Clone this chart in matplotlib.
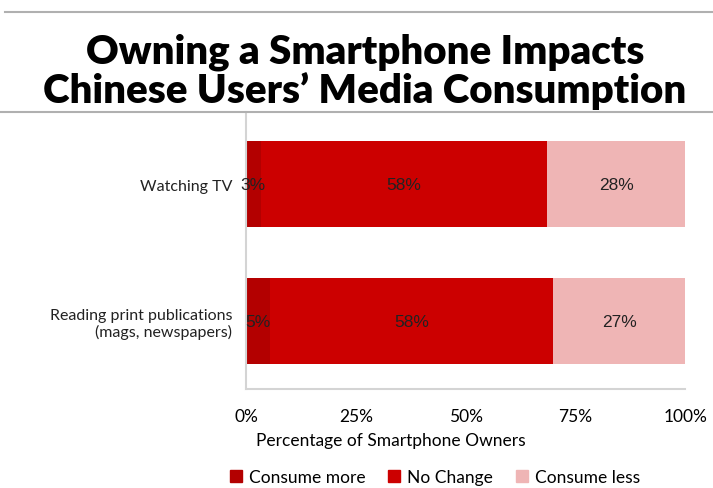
import numpy as np
import matplotlib
matplotlib.use("Agg")
from matplotlib import pyplot as plt
from matplotlib.lines import Line2D
from matplotlib.patches import Patch

activities = ["Reading print publications\n(mags, newspapers)", "Watching TV"]
series_names = ["Consume more", "No Change", "Consume less"]
consume_more = [5, 3]
no_change = [58, 58]
consume_less = [27, 28]

colors = ["#B30000", "#CC0000", "#EFB5B5"]

fig = plt.figure(figsize=(7.13, 4.89), dpi=100)

# header rules and title
fig.add_artist(Line2D([0.007, 1.0], [0.973, 0.973], color="#B0B0B0", lw=1.5))
fig.add_artist(Line2D([0.0, 1.0], [0.769, 0.769], color="#B0B0B0", lw=1.5))
fig.text(0.512, 0.853, "Owning a Smartphone Impacts\nChinese Users\u2019 Media Consumption",
         ha="center", va="center", fontsize=29, fontweight="heavy", family="Lato",
         linespacing=1.04)

ax = fig.add_axes([0.345, 0.2025, 0.616, 0.5665])

values = np.array([consume_more, no_change, consume_less], dtype=float)
totals = values.sum(axis=0)
shares = values / totals * 100
y = np.arange(len(activities))
left = np.zeros(len(activities))
for name, raw, share, color in zip(series_names, values, shares, colors):
    ax.barh(y, share, left=left, height=0.63, color=color, label=name)
    for yi, l, s, r in zip(y, left, share, raw):
        ax.text(l + s / 2, yi, f"{r:.0f}%", ha="center", va="center",
                fontsize=12.5, family="Liberation Sans", color="#222222")
    left += share

ax.set_xlim(0, 100)
ax.set_ylim(-0.496, 1.526)
ax.set_xticks([0, 25, 50, 75, 100])
ax.set_xticklabels(["0%", "25%", "50%", "75%", "100%"], family="Lato", fontsize=12.5)
ax.set_yticks(y)
ax.set_yticklabels(activities, family="Lato", fontsize=11.5, color="#222222")
ax.tick_params(length=0)
ax.tick_params(axis="x", pad=14)
ax.tick_params(axis="y", pad=10)
for side in ["top", "right"]:
    ax.spines[side].set_visible(False)
for side in ["left", "bottom"]:
    ax.spines[side].set_color("#D4D4D4")
    ax.spines[side].set_linewidth(1.5)
ax.set_xlabel("Percentage of Smartphone Owners", family="Lato", fontsize=12.5,
              labelpad=6)
ax.xaxis.set_label_coords(0.33, -0.155)

handles = [Patch(color=c) for c in colors]
fig.legend(handles, series_names, loc="center", bbox_to_anchor=(0.61, 0.022),
           ncol=3, frameon=False, handlelength=0.7, handleheight=0.7,
           handletextpad=0.4, columnspacing=1.3,
           prop={"family": "Lato", "size": 12.5})

fig.savefig("out.png", dpi=100)
